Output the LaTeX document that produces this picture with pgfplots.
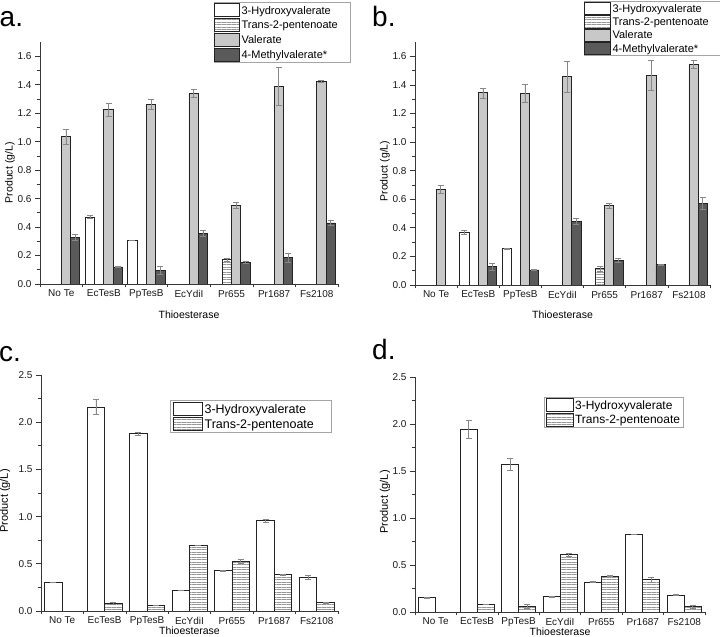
\documentclass[border=0pt]{standalone}
\usepackage{fontspec}
\setmainfont{Liberation Sans}
\usepackage{pgfplots}
\pgfplotsset{compat=1.18}
\usetikzlibrary{patterns.meta}

\definecolor{valc}{RGB}{200,200,200}
\definecolor{mvc}{RGB}{90,90,90}
\definecolor{edgec}{RGB}{35,35,35}
\definecolor{errc}{RGB}{135,135,135}
\definecolor{axc}{RGB}{55,55,55}
\definecolor{legc}{RGB}{165,165,165}
\definecolor{hatc}{RGB}{150,150,150}

\pgfplotsset{
  panel/.style={
    scale only axis,
    axis lines*=left,
    axis line style={axc, line width=0.8pt, -},
    every tick/.style={axc, line width=0.7pt},
    tick align=outside,
    major tick length=5pt,
    minor tick length=3.5pt,
    xmin=-0.5, xmax=6.5,
    xtick={0,1,2,3,4,5,6},
    xticklabels={No Te,EcTesB,PpTesB,EcYdiI,Pr655,Pr1687,Fs2108},
    minor xtick={-0.5,0.5,1.5,2.5,3.5,4.5,5.5,6.5},
    major x tick style={draw=none},
    xticklabel shift=-2.5pt,
    ymin=0,
    minor y tick num=1,
    /pgf/number format/assume math mode=true,
    yticklabel style={/pgf/number format/.cd, fixed, fixed zerofill, precision=1},
    tick label style={font=\fontsize{10}{12}\selectfont, text=black!90},
    xlabel={Thioesterase},
    ylabel={Product (g/L)},
    legend cell align=left,
  },
  eb/.style={
    /pgfplots/error bars/y dir=both,
    /pgfplots/error bars/y explicit,
    /pgfplots/error bars/error bar style={errc, line width=0.6pt},
    /pgfplots/error bars/error mark options={errc, rotate=90, mark size=3pt, line width=0.6pt},
  },
  shv/.style={draw=edgec, fill=white, line width=0.8pt, eb},
  stp/.style={draw=edgec, line width=0.8pt, pattern={Lines[angle=0, distance=2.5pt, line width=0.5pt]}, pattern color=hatc, eb},
  sval/.style={draw=edgec, fill=valc, line width=0.8pt, eb},
  smv/.style={draw=edgec, fill=mvc, line width=0.8pt, eb},
  limgA/.style={legend image code/.code={\draw[##1] (0pt,-6.5pt) rectangle (25pt,6.5pt);}},
  limgB/.style={legend image code/.code={\draw[##1] (0pt,-6.15pt) rectangle (26pt,6.15pt);}},
  limgC/.style={legend image code/.code={\draw[##1] (0pt,-6.75pt) rectangle (29pt,6.75pt);}},
  limgD/.style={legend image code/.code={\draw[##1] (0pt,-6.5pt) rectangle (27pt,6.5pt);}},
}

\begin{document}
\begin{tikzpicture}
\useasboundingbox (0pt,0pt) rectangle (720pt,637pt);

% ---------------- panel a ----------------
\begin{axis}[panel, ybar=0pt, bar width=9.3pt,
  at={(40pt,353pt)}, anchor=south west, width=298pt, height=242pt,
  ymax=1.7, ytick={0,0.2,0.4,0.6,0.8,1.0,1.2,1.4,1.6},
  every axis x label/.style={at={(axis description cs:0.5,-0.1446)}, anchor=base, font=\fontsize{10.5}{12}\selectfont},
  every axis y label/.style={at={(axis description cs:-0.1007,0.46)}, anchor=center, rotate=90, font=\fontsize{10.5}{12}\selectfont},
  legend style={at={(axis description cs:0.5839,1.1653)}, anchor=north west, draw=legc, line width=0.6pt,
    inner xsep=0pt, inner ysep=0.5pt, row sep=0pt, font=\fontsize{11}{13}\selectfont,
    nodes={inner xsep=1.5pt, inner ysep=0pt, text height=11.3pt, text depth=3.45pt}},
]
\addplot[shv, limgA] coordinates {(1,0.47) +- (0,0.012) (2,0.307) +- (0,0.003)};
\addlegendentry{\makebox[107pt][l]{3-Hydroxyvalerate}}
\addplot[stp, limgA] coordinates {(4,0.17) +- (0,0.01)};
\addlegendentry{Trans-2-pentenoate}
\addplot[sval, limgA] coordinates {
  (0,1.034) +- (0,0.05) (1,1.224) +- (0,0.045) (2,1.262) +- (0,0.035) (3,1.341) +- (0,0.03)
  (4,0.552) +- (0,0.022) (5,1.39) +- (0,0.135) (6,1.425) +- (0,0.008)};
\addlegendentry{Valerate}
\addplot[smv, limgA] coordinates {
  (0,0.329) +- (0,0.02) (1,0.12) +- (0,0.004) (2,0.095) +- (0,0.03) (3,0.356) +- (0,0.024)
  (4,0.152) +- (0,0.01) (5,0.184) +- (0,0.035) (6,0.429) +- (0,0.02)};
\addlegendentry{4-Methylvalerate*}
\end{axis}

% ---------------- panel b ----------------
\begin{axis}[panel, ybar=0pt, bar width=9.2pt,
  at={(415pt,352pt)}, anchor=south west, width=295pt, height=243pt,
  ymax=1.7, ytick={0,0.2,0.4,0.6,0.8,1.0,1.2,1.4,1.6},
  every axis x label/.style={at={(axis description cs:0.5,-0.136)}, anchor=base, font=\fontsize{10.5}{12}\selectfont},
  every axis y label/.style={at={(axis description cs:-0.1017,0.469)}, anchor=center, rotate=90, font=\fontsize{10.5}{12}\selectfont},
  legend style={at={(axis description cs:0.5729,1.1687)}, anchor=north west, draw=legc, line width=0.6pt,
    inner xsep=0pt, inner ysep=0.5pt, row sep=0pt, font=\fontsize{11}{13}\selectfont,
    nodes={inner xsep=1.5pt, inner ysep=0pt, text height=10.55pt, text depth=2.75pt}},
]
\addplot[shv, limgB] coordinates {(1,0.367) +- (0,0.015) (2,0.254) +- (0,0.005)};
\addlegendentry{\makebox[106pt][l]{3-Hydroxyvalerate}}
\addplot[stp, limgB] coordinates {(4,0.114) +- (0,0.015)};
\addlegendentry{Trans-2-pentenoate}
\addplot[sval, limgB] coordinates {
  (0,0.669) +- (0,0.028) (1,1.344) +- (0,0.035) (2,1.34) +- (0,0.062) (3,1.458) +- (0,0.11)
  (4,0.555) +- (0,0.015) (5,1.465) +- (0,0.105) (6,1.542) +- (0,0.028)};
\addlegendentry{Valerate}
\addplot[smv, limgB] coordinates {
  (1,0.128) +- (0,0.022) (2,0.105) +- (0,0.002) (3,0.445) +- (0,0.02)
  (4,0.173) +- (0,0.014) (5,0.143) +- (0,0.004) (6,0.57) +- (0,0.042)};
\addlegendentry{4-Methylvalerate*}
\end{axis}

% ---------------- panel c ----------------
\begin{axis}[panel, ybar=0pt, bar width=17.5pt,
  at={(41pt,26pt)}, anchor=south west, width=297pt, height=236pt,
  ymax=2.5, ytick={0,0.5,1.0,1.5,2.0,2.5},
  every axis x label/.style={at={(axis description cs:0.5,-0.1)}, anchor=base, font=\fontsize{10.5}{12}\selectfont},
  every axis y label/.style={at={(axis description cs:-0.121,0.466)}, anchor=center, rotate=90, font=\fontsize{11}{12}\selectfont},
  legend style={at={(axis description cs:0.4343,0.894)}, anchor=north west, draw=legc, line width=0.6pt,
    inner xsep=3pt, inner ysep=1pt, row sep=0pt, font=\fontsize{12.5}{14}\selectfont,
    nodes={inner xsep=1.5pt, inner ysep=0pt, text height=12pt, text depth=3pt}},
]
\addplot[shv, limgC] coordinates {
  (0,0.304) +- (0,0.004) (1,2.16) +- (0,0.08) (2,1.88) +- (0,0.018) (3,0.222) +- (0,0.002)
  (4,0.427) +- (0,0.006) (5,0.956) +- (0,0.02) (6,0.36) +- (0,0.022)};
\addlegendentry{\makebox[122pt][l]{3-Hydroxyvalerate}}
\addplot[stp, limgC] coordinates {
  (1,0.079) +- (0,0.008) (2,0.062) +- (0,0.002) (3,0.696) +- (0,0.003)
  (4,0.525) +- (0,0.018) (5,0.386) +- (0,0.008) (6,0.086) +- (0,0.002)};
\addlegendentry{Trans-2-pentenoate}
\end{axis}

% ---------------- panel d ----------------
\begin{axis}[panel, ybar=0pt, bar width=17pt,
  at={(415pt,25pt)}, anchor=south west, width=290pt, height=235pt,
  ymax=2.5, ytick={0,0.5,1.0,1.5,2.0,2.5},
  every axis x label/.style={at={(axis description cs:0.5,-0.1)}, anchor=base, font=\fontsize{10.5}{12}\selectfont},
  every axis y label/.style={at={(axis description cs:-0.1034,0.468)}, anchor=center, rotate=90, font=\fontsize{11}{12}\selectfont},
  legend style={at={(axis description cs:0.4448,0.915)}, anchor=north west, draw=legc, line width=0.6pt,
    inner xsep=1.5pt, inner ysep=0.5pt, row sep=0pt, font=\fontsize{12}{14}\selectfont,
    nodes={inner xsep=1.5pt, inner ysep=0pt, text height=11.55pt, text depth=2.95pt}},
]
\addplot[shv, limgD] coordinates {
  (0,0.155) +- (0,0.004) (1,1.943) +- (0,0.1) (2,1.571) +- (0,0.066) (3,0.162) +- (0,0.01)
  (4,0.32) +- (0,0.008) (5,0.827) +- (0,0.004) (6,0.18) +- (0,0.004)};
\addlegendentry{\makebox[105pt][l]{3-Hydroxyvalerate}}
\addplot[stp, limgD] coordinates {
  (1,0.085) +- (0,0.002) (2,0.06) +- (0,0.025) (3,0.609) +- (0,0.017)
  (4,0.384) +- (0,0.008) (5,0.342) +- (0,0.026) (6,0.056) +- (0,0.02)};
\addlegendentry{Trans-2-pentenoate}
\end{axis}

% panel letters
\node[anchor=base west, inner sep=0pt, font=\fontsize{28}{30}\selectfont] at (-0.5pt,610pt) {a.};
\node[anchor=base west, inner sep=0pt, font=\fontsize{28}{30}\selectfont] at (372pt,610pt) {b.};
\node[anchor=base west, inner sep=0pt, font=\fontsize{28}{30}\selectfont] at (-1pt,275pt) {c.};
\node[anchor=base west, inner sep=0pt, font=\fontsize{28}{30}\selectfont] at (372pt,277pt) {d.};
\end{tikzpicture}
\end{document}
